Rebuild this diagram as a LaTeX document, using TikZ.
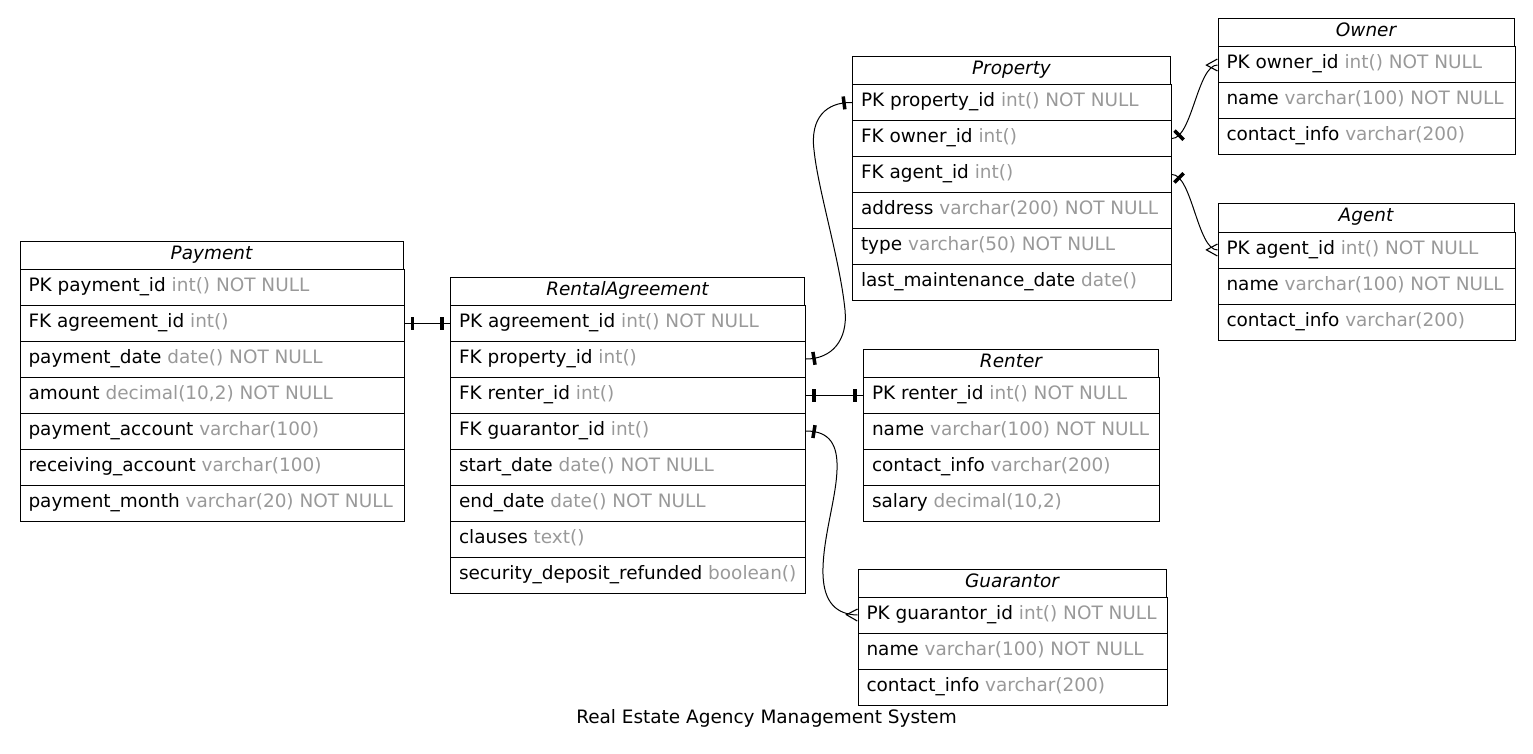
\documentclass[tikz,border=0pt]{standalone}
\usepackage{fontspec}
\setmainfont{DejaVu Sans}
\usetikzlibrary{decorations.markings}
\definecolor{typegray}{RGB}{153,153,153}
\newcommand{\ty}[1]{\textcolor{typegray}{#1}}
\newcommand{\ercell}[5]{\node[cell] (#1) at (#2,#3) {\makebox[\dimexpr #4pt-16pt\relax][l]{#5}};}
\newcommand{\erhead}[5]{\node[head, minimum width=#4pt] (#1) at (#2,#3) {#5};}
\begin{document}
\begin{tikzpicture}[x=1pt,y=-1pt,
  every node/.style={font=\fontsize{18.45}{22}\selectfont},
  cell/.style={draw, line width=1pt, anchor=north west, minimum height=36pt,
    inner xsep=8.5pt, inner ysep=0pt, text height=15pt, text depth=7pt},
  head/.style={draw, line width=1pt, anchor=north west, minimum height=28pt,
    inner sep=0pt, font=\fontsize{18.45}{22}\selectfont\itshape, text height=15pt, text depth=7pt},
  rel/.style={line width=1pt},
  teestart/.style={postaction={decorate, decoration={markings,
    mark=at position 8pt with {\draw[line width=3.5pt] (0,-6.5pt) -- (0,6.5pt);}}}},
  teeend/.style={postaction={decorate, decoration={markings,
    mark=at position -8pt with {\draw[line width=3.5pt] (0,-6.5pt) -- (0,6.5pt);}}}},
  crowend/.style={postaction={decorate, decoration={markings,
    mark=at position -0.1pt with {\draw[line width=1.1pt] (0,-6pt) -- (-11pt,0) -- (0,6pt);}}}}
]
\useasboundingbox (0,0) rectangle (1533,754);

% Payment
\erhead{pay}{19.5}{240.5}{383}{Payment}
\ercell{pay-pk}{19.5}{268.5}{383}{PK payment\_id \ty{int() NOT NULL}}
\ercell{pay-fk}{19.5}{304.5}{383}{FK agreement\_id \ty{int()}}
\ercell{pay-r3}{19.5}{340.5}{383}{payment\_date \ty{date() NOT NULL}}
\ercell{pay-r4}{19.5}{376.5}{383}{amount \ty{decimal(10,2) NOT NULL}}
\ercell{pay-r5}{19.5}{412.5}{383}{payment\_account \ty{varchar(100)}}
\ercell{pay-r6}{19.5}{448.5}{383}{receiving\_account \ty{varchar(100)}}
\ercell{pay-r7}{19.5}{484.5}{383}{payment\_month \ty{varchar(20) NOT NULL}}

% RentalAgreement
\erhead{ra}{450}{276.5}{354}{RentalAgreement}
\ercell{ra-pk}{450}{304.5}{354}{PK agreement\_id \ty{int() NOT NULL}}
\ercell{ra-fp}{450}{340.5}{354}{FK property\_id \ty{int()}}
\ercell{ra-fr}{450}{376.5}{354}{FK renter\_id \ty{int()}}
\ercell{ra-fg}{450}{412.5}{354}{FK guarantor\_id \ty{int()}}
\ercell{ra-r5}{450}{448.5}{354}{start\_date \ty{date() NOT NULL}}
\ercell{ra-r6}{450}{484.5}{354}{end\_date \ty{date() NOT NULL}}
\ercell{ra-r7}{450}{520.5}{354}{clauses \ty{text()}}
\ercell{ra-r8}{450}{556.5}{354}{security\_deposit\_refunded \ty{boolean()}}

% Property
\erhead{pr}{852}{56}{318}{Property}
\ercell{pr-pk}{852}{84}{318}{PK property\_id \ty{int() NOT NULL}}
\ercell{pr-fo}{852}{120}{318}{FK owner\_id \ty{int()}}
\ercell{pr-fa}{852}{156}{318}{FK agent\_id \ty{int()}}
\ercell{pr-r4}{852}{192}{318}{address \ty{varchar(200) NOT NULL}}
\ercell{pr-r5}{852}{228}{318}{type \ty{varchar(50) NOT NULL}}
\ercell{pr-r6}{852}{264}{318}{last\_maintenance\_date \ty{date()}}

% Owner
\erhead{ow}{1217.5}{18.5}{296}{Owner}
\ercell{ow-pk}{1217.5}{46.5}{296}{PK owner\_id \ty{int() NOT NULL}}
\ercell{ow-r2}{1217.5}{82.5}{296}{name \ty{varchar(100) NOT NULL}}
\ercell{ow-r3}{1217.5}{118.5}{296}{contact\_info \ty{varchar(200)}}

% Agent
\erhead{ag}{1217.5}{203.5}{296}{Agent}
\ercell{ag-pk}{1217.5}{231.5}{296}{PK agent\_id \ty{int() NOT NULL}}
\ercell{ag-r2}{1217.5}{267.5}{296}{name \ty{varchar(100) NOT NULL}}
\ercell{ag-r3}{1217.5}{303.5}{296}{contact\_info \ty{varchar(200)}}

% Renter
\erhead{re}{863}{348.5}{295}{Renter}
\ercell{re-pk}{863}{376.5}{295}{PK renter\_id \ty{int() NOT NULL}}
\ercell{re-r2}{863}{412.5}{295}{name \ty{varchar(100) NOT NULL}}
\ercell{re-r3}{863}{448.5}{295}{contact\_info \ty{varchar(200)}}
\ercell{re-r4}{863}{484.5}{295}{salary \ty{decimal(10,2)}}

% Guarantor
\erhead{gu}{857.5}{568.5}{308}{Guarantor}
\ercell{gu-pk}{857.5}{596.5}{308}{PK guarantor\_id \ty{int() NOT NULL}}
\ercell{gu-r2}{857.5}{632.5}{308}{name \ty{varchar(100) NOT NULL}}
\ercell{gu-r3}{857.5}{668.5}{308}{contact\_info \ty{varchar(200)}}

% Relations
\draw[rel, teestart, teeend] (pay-fk.east) -- (ra-pk.west);
\draw[rel, teestart, teeend] (ra-fr.east) -- (re-pk.west);
\draw[rel, teestart, teeend] (ra-fp.east) .. controls +(26,0) and (848,340) .. (845,310)
  .. controls (840,260) and (818,190) .. (814,150)
  .. controls (810,118) and (826,102) .. (pr-pk.west);
\draw[rel, teestart, crowend] (ra-fg.east) .. controls +(24,0) and (838,445) .. (837,470)
  .. controls (836,500) and (822,540) .. (823,575)
  .. controls (824,602) and (836,614.5) .. (gu-pk.west);
\draw[rel, teestart, crowend] (pr-fo.east) .. controls +(20,0) and +(-20,0) .. (ow-pk.west);
\draw[rel, teestart, crowend] (pr-fa.east) .. controls +(20,0) and +(-20,0) .. (ag-pk.west);

% Caption
\node (caption) at (766.5,718) {Real Estate Agency Management System};
\end{tikzpicture}
\end{document}
